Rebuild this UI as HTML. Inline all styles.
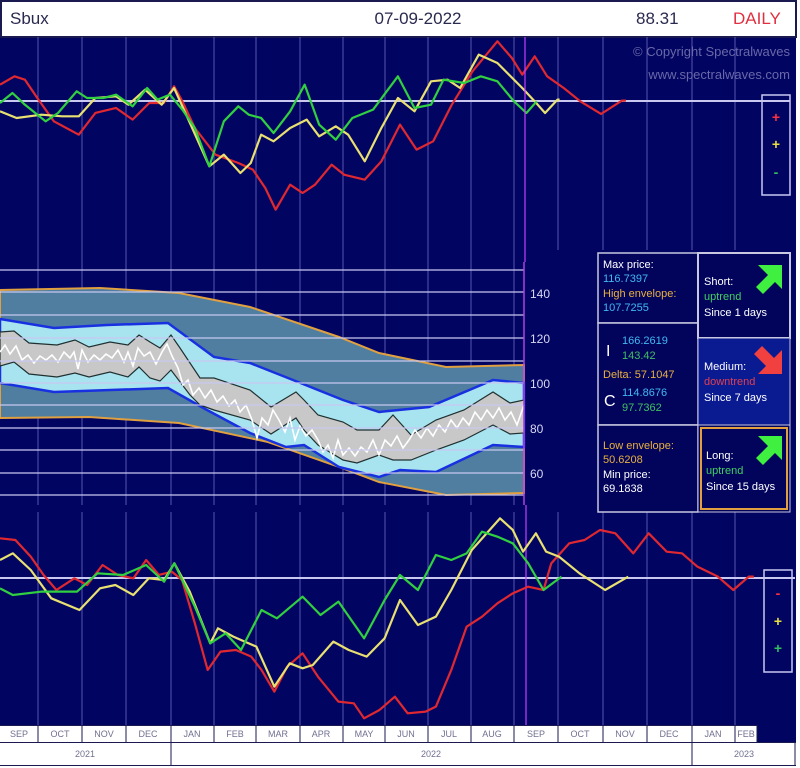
<!DOCTYPE html>
<html><head><meta charset="utf-8"><style>
body{margin:0;width:800px;height:768px;background:#fff;overflow:hidden;font-family:"Liberation Sans",sans-serif}
svg{display:block}
.t{font-family:"Liberation Sans",sans-serif}
</style></head><body>
<svg width="800" height="768" viewBox="0 0 800 768" xmlns="http://www.w3.org/2000/svg">
<rect x="0" y="0" width="800" height="768" fill="#fff"/>
<rect x="0" y="37" width="796" height="688" fill="#020462"/>
<rect x="1" y="1" width="795" height="36" fill="#fff" stroke="#1a1a50" stroke-width="2"/>
<text class="t" x="10" y="24" font-size="17" fill="#2a2a50">Sbux</text>
<text class="t" x="418" y="24" font-size="17" fill="#2a2a50" text-anchor="middle">07-09-2022</text>
<text class="t" x="636" y="24" font-size="17" fill="#2a2a50">88.31</text>
<text class="t" x="733" y="24" font-size="17" fill="#e03040">DAILY</text>
<g stroke="#7a7ad0" stroke-width="1" opacity="0.7">
<path d="M38 37V262M82 37V262M126 37V262M171 37V262M214 37V262M256 37V262M300 37V262M343 37V262M385 37V262M428 37V262M471 37V262M514 37V262M558 37V250M603 37V250M647 37V250M692 37V250M735 37V250"/>
<path d="M38 512V725M82 512V725M126 512V725M171 512V725M214 512V725M256 512V725M300 512V725M343 512V725M385 512V725M428 512V725M471 512V725M514 512V725M558 512V725M603 512V725M647 512V725M692 512V725M735 512V725"/>
</g>
<line x1="0" y1="101" x2="790" y2="101" stroke="#c8c8f0" stroke-width="2"/>
<line x1="0" y1="578" x2="795" y2="578" stroke="#c8c8f0" stroke-width="2"/>
<text class="t" x="790" y="56" font-size="13" fill="#6868a8" text-anchor="end">© Copyright Spectralwaves</text>
<text class="t" x="790" y="79" font-size="13" fill="#6868a8" text-anchor="end">www.spectralwaves.com</text>
<g transform="translate(0,38) scale(0.4145,0.3333)" fill="none" stroke-width="2.2" stroke-linejoin="round">
<polyline vector-effect="non-scaling-stroke" stroke="#e02830" points="0,140 35,115 60,125 90,180 130,250 190,290 230,225 280,210 320,245 360,195 395,195 420,145 440,190 470,270 520,350 575,375 610,395 640,450 665,515 700,440 730,465 760,440 800,380 830,410 880,425 920,370 965,260 1005,335 1045,310 1090,200 1140,100 1200,10 1235,60 1260,110 1290,55 1320,115 1360,150 1400,190 1450,228 1500,188 1510,188"/>
<polyline vector-effect="non-scaling-stroke" stroke="#e8e070" points="0,220 40,240 100,230 150,235 190,235 230,180 280,175 310,200 350,155 390,200 420,150 460,260 505,385 540,350 580,405 605,375 630,290 660,310 700,270 740,245 770,295 810,265 840,290 880,370 920,270 960,180 1000,220 1040,130 1080,125 1110,150 1155,50 1200,75 1260,150 1290,190 1315,225 1345,185 1350,185"/>
<polyline vector-effect="non-scaling-stroke" stroke="#30d040" points="0,195 30,165 60,200 110,250 140,225 185,160 210,180 250,180 280,170 320,205 355,150 380,185 410,170 440,215 470,270 505,385 540,250 575,205 600,230 630,240 660,285 700,220 735,140 770,260 810,305 850,240 900,215 960,115 1000,210 1040,200 1070,125 1120,135 1160,115 1200,130 1240,190 1270,225 1295,190"/>
</g>
<rect x="762" y="95" width="28" height="100" fill="none" stroke="#c8c8f0" stroke-width="1.5"/>
<text class="t" x="776" y="122" font-size="14" fill="#ff3040" text-anchor="middle" font-weight="bold">+</text>
<text class="t" x="776" y="149" font-size="14" fill="#e8e040" text-anchor="middle" font-weight="bold">+</text>
<text class="t" x="776" y="177" font-size="14" fill="#30c060" text-anchor="middle" font-weight="bold">-</text>
<g stroke="#7a7ad0" stroke-width="1" opacity="0.7">
<path d="M38 262V505M82 262V505M126 262V505M171 262V505M214 262V505M256 262V505M300 262V505M343 262V505M385 262V505M428 262V505M471 262V505M514 262V505"/>
</g>
<polygon fill="#4f7ea0" stroke="#e0a040" stroke-width="2" points="0,290 100,288 179,293 250,307 339,337 379,353 446,367 524,365 524,493 446,495 379,482 339,467 268,442 179,423 89,417 0,418"/>
<polygon fill="#a8e4f0" stroke="#1830e0" stroke-width="2.5" points="0,319 54,328 107,325 168,323 214,357 250,363 293,380 343,400 379,412 429,407 493,380 524,383 524,447 493,445 436,472 400,470 379,477 339,467 304,445 286,447 250,433 207,410 168,388 54,392 0,383"/>
<polygon fill="#c8c8c8" stroke="#203030" stroke-width="1.2" points="0,332 14,331 29,343 57,345 75,340 89,347 110,342 128,345 139,335 150,342 160,348 171,335 180,348 200,378 214,378 250,390 271,407 296,392 304,400 318,415 343,422 357,430 379,430 393,415 411,435 436,420 464,410 493,392 510,403 524,400 524,433 510,434 493,425 464,440 436,450 411,460 393,460 379,455 357,463 343,460 318,445 304,430 296,418 271,434 250,420 214,410 200,405 190,395 171,370 160,381 150,378 139,367 128,377 110,372 89,377 75,373 57,377 29,374 14,362 0,366"/>
<polyline fill="none" stroke="#ffffff" stroke-width="1.6" points="0,352 5,345 10,354 16,346 22,360 28,355 34,363 40,356 46,360 52,355 58,362 64,352 70,358 74,352 78,369 82,350 88,362 94,355 100,360 106,354 112,358 118,350 124,362 128,352 133,366 138,348 144,356 150,352 156,364 162,352 167,344 172,356 178,368 183,385 188,380 193,395 199,388 205,398 211,390 217,402 223,396 229,406 235,400 240,412 246,405 252,420 257,438 262,418 268,425 273,410 279,420 285,432 290,418 295,440 300,426 306,436 312,430 318,440 323,452 328,445 333,458 338,440 343,455 349,448 355,456 361,447 367,452 373,440 379,455 385,440 391,446 397,436 403,448 409,440 415,430 421,438 427,428 433,436 439,425 445,432 451,420 457,428 463,418 469,425 475,412 481,420 487,410 493,418 499,408 505,420 511,412 517,425 524,405"/>
<g stroke="#c8c8f0" stroke-width="1.2">
<path d="M0 270H524M0 292H524M0 315H524M0 338H524M0 361H524M0 383H524M0 405H524M0 428H524M0 450H524M0 473H524M0 495H524"/>
</g>
<line x1="524" y1="262" x2="524" y2="505" stroke="#b040e0" stroke-width="1.5"/>
<text class="t" x="530" y="298" font-size="12" fill="#d8d8f0">140</text>
<text class="t" x="530" y="343" font-size="12" fill="#d8d8f0">120</text>
<text class="t" x="530" y="388" font-size="12" fill="#d8d8f0">100</text>
<text class="t" x="530" y="433" font-size="12" fill="#d8d8f0">80</text>
<text class="t" x="530" y="478" font-size="12" fill="#d8d8f0">60</text>
<line x1="525" y1="37" x2="525" y2="262" stroke="#c040ff" stroke-width="1.2"/>
<line x1="526" y1="505" x2="526" y2="725" stroke="#c040ff" stroke-width="1.2"/>
<g font-size="11" class="t">
<rect x="598" y="253" width="100" height="70" fill="#02045c" stroke="#c8c8e0" stroke-width="1.5"/>
<text x="603" y="268" fill="#fff">Max price:</text>
<text x="603" y="282" fill="#40b8f0">116.7397</text>
<text x="603" y="297" fill="#e8b040">High envelope:</text>
<text x="603" y="311" fill="#40b8f0">107.7255</text>
<rect x="598" y="323" width="100" height="102" fill="#02045c" stroke="#c8c8e0" stroke-width="1.5"/>
<text x="606" y="356" fill="#fff" font-size="16">I</text>
<text x="622" y="344" fill="#40b8f0">166.2619</text>
<text x="622" y="359" fill="#40c060">143.42</text>
<text x="603" y="378" fill="#e8b040">Delta: 57.1047</text>
<text x="604" y="406" fill="#fff" font-size="16">C</text>
<text x="622" y="396" fill="#40b8f0">114.8676</text>
<text x="622" y="411" fill="#40c060">97.7362</text>
<rect x="598" y="425" width="100" height="87" fill="#02045c" stroke="#c8c8e0" stroke-width="1.5"/>
<text x="603" y="449" fill="#e8b040">Low envelope:</text>
<text x="603" y="463" fill="#e8b040">50.6208</text>
<text x="603" y="478" fill="#fff">Min price:</text>
<text x="603" y="492" fill="#fff">69.1838</text>
<rect x="698" y="253" width="92" height="85" fill="#02045c" stroke="#c8c8e0" stroke-width="2"/>
<text x="704" y="285" fill="#fff">Short:</text>
<text x="704" y="300" fill="#40d060">uptrend</text>
<text x="704" y="316" fill="#fff">Since 1 days</text>
<polygon fill="#40f040" points="758,265 782,265 782,289 775,282 763,294 756,287 768,275"/>
<rect x="698" y="338" width="92" height="87" fill="#0a1a90" stroke="#c8c8e0" stroke-width="1"/>
<text x="704" y="370" fill="#fff">Medium:</text>
<text x="704" y="385" fill="#e04050">downtrend</text>
<text x="704" y="401" fill="#fff">Since 7 days</text>
<polygon fill="#f04040" points="782,374 758,374 766,366 754,354 762,346 774,358 782,350"/>
<rect x="698" y="425" width="92" height="87" fill="#02045c" stroke="#c8c8e0" stroke-width="1"/>
<rect x="701" y="428" width="86" height="81" fill="none" stroke="#e0a040" stroke-width="2"/>
<text x="706" y="459" fill="#fff">Long:</text>
<text x="706" y="474" fill="#40d060">uptrend</text>
<text x="706" y="490" fill="#fff">Since 15 days</text>
<polygon fill="#40f040" points="758,436 782,436 782,460 775,453 763,465 756,458 768,446"/>
</g>
<g transform="translate(0,510) scale(0.5128,0.3333)" fill="none" stroke-width="2.2" stroke-linejoin="round">
<polyline vector-effect="non-scaling-stroke" stroke="#e02830" points="0,85 30,90 60,140 85,195 110,240 145,205 170,225 200,165 230,195 260,205 285,150 310,195 335,185 355,210 380,340 405,480 430,425 460,420 490,440 510,480 535,545 560,470 590,430 620,500 660,575 690,580 710,625 740,600 770,560 795,610 830,605 850,590 880,480 910,350 940,320 970,280 1000,250 1030,230 1060,240 1075,160 1110,100 1140,90 1170,60 1200,70 1235,130 1265,70 1300,125 1330,130 1360,170 1400,200 1430,240 1460,200 1470,200"/>
<polyline vector-effect="non-scaling-stroke" stroke="#e8e070" points="0,150 25,130 60,180 100,265 155,300 195,235 225,225 260,255 290,205 320,210 340,160 370,245 410,400 425,355 455,380 470,390 500,410 535,530 565,460 590,475 610,465 650,395 680,420 715,440 750,385 780,270 815,345 850,320 880,240 920,120 975,25 1000,60 1020,125 1045,70 1065,125 1090,140 1130,190 1180,240 1225,200"/>
<polyline vector-effect="non-scaling-stroke" stroke="#30d040" points="0,235 25,255 80,245 150,245 190,190 240,195 285,165 320,215 340,160 380,290 410,400 440,370 470,420 510,300 540,325 590,260 625,315 660,275 710,385 750,270 780,195 815,240 850,135 880,150 910,130 940,65 970,80 1000,100 1030,160 1060,240 1095,200"/>
</g>
<rect x="764" y="570" width="28" height="102" fill="none" stroke="#c8c8f0" stroke-width="1.5"/>
<text class="t" x="778" y="598" font-size="14" fill="#ff3040" text-anchor="middle" font-weight="bold">-</text>
<text class="t" x="778" y="626" font-size="14" fill="#e8e040" text-anchor="middle" font-weight="bold">+</text>
<text class="t" x="778" y="653" font-size="14" fill="#30c060" text-anchor="middle" font-weight="bold">+</text>
<rect x="0" y="725" width="757" height="17" fill="#fff"/>
<rect x="757" y="725" width="39" height="17" fill="#020462"/>
<g stroke="#1a1a50" stroke-width="1">
<path d="M0 725.5H757M0 742.5H796M0 765.5H796M38 725V742M82 725V742M126 725V742M171 725V765M214 725V742M256 725V742M300 725V742M343 725V742M385 725V742M428 725V742M471 725V742M514 725V742M558 725V742M603 725V742M647 725V742M692 725V765M735 725V742M757 725V742M795 742V765"/>
</g>
<g class="t" font-size="9" fill="#707090" text-anchor="middle">
<text x="19" y="737">SEP</text><text x="60" y="737">OCT</text><text x="104" y="737">NOV</text><text x="148" y="737">DEC</text>
<text x="192" y="737">JAN</text><text x="235" y="737">FEB</text><text x="278" y="737">MAR</text><text x="321" y="737">APR</text>
<text x="364" y="737">MAY</text><text x="406" y="737">JUN</text><text x="449" y="737">JUL</text><text x="492" y="737">AUG</text>
<text x="536" y="737">SEP</text><text x="580" y="737">OCT</text><text x="625" y="737">NOV</text><text x="669" y="737">DEC</text>
<text x="713" y="737">JAN</text><text x="746" y="737">FEB</text>
<text x="85" y="757">2021</text><text x="431" y="757">2022</text><text x="744" y="757">2023</text>
</g>
</svg>
</body></html>
